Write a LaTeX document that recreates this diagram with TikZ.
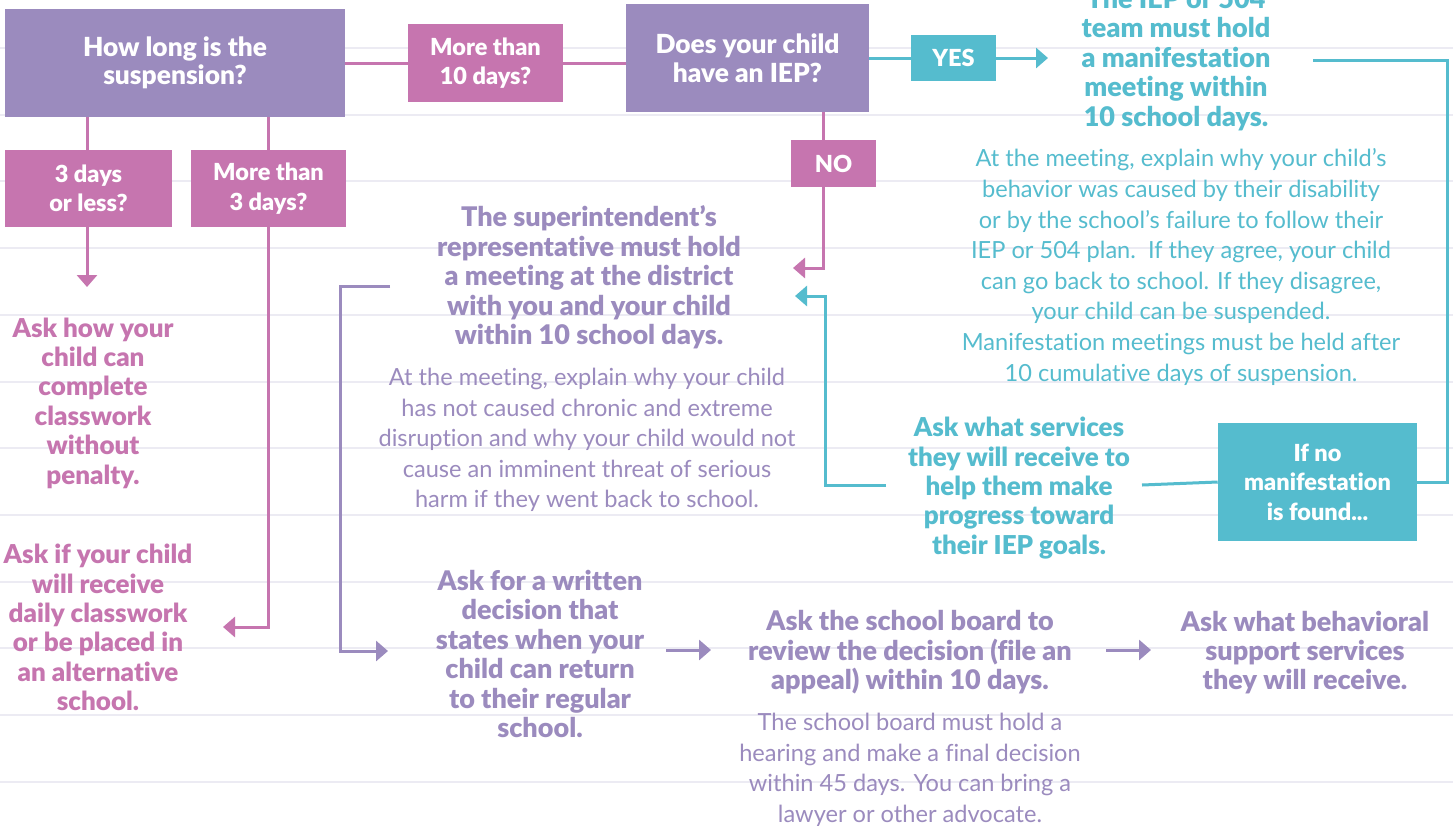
\documentclass[tikz,border=0pt]{standalone}
\usepackage{fontspec}
\setmainfont{Lato}[Ligatures=NoCommon,BoldFont={Lato Black}]
\usepackage{tikz}
\usetikzlibrary{positioning}
\usetikzlibrary{arrows.meta}
\usetikzlibrary{calc}
\definecolor{lav}{HTML}{9B8BBE}
\definecolor{rose}{HTML}{C675AF}
\definecolor{aqua}{HTML}{55BCCE}
\definecolor{ruling}{HTML}{ECEBF3}
\tikzset{box node/.style={fill=#1,text=white,align=center,inner sep=0pt,
    font=\bfseries\fontsize{26.3}{28.5}\selectfont},
  tag node/.style={fill=#1,text=white,align=center,inner sep=0pt,
    font=\bfseries\fontsize{23.5}{29.5}\selectfont},
  head node/.style={text=#1,align=center,inner sep=0pt,yshift=-2pt,
    font=\bfseries\fontsize{27}{29.4}\selectfont},
  note node/.style={text=#1,align=center,inner sep=0pt,yshift=-2pt,
    font=\fontsize{23.6}{30.6}\selectfont},
  link/.style={draw=#1,line width=3pt},
  arrow link/.style={draw=#1,line width=3pt,-{Triangle[length=12pt,width=20pt]}},}

\begin{document}
\begin{tikzpicture}[x=1pt,y=-1pt,semithick]
    \useasboundingbox (0,0) rectangle (1453,825);
    \clip (0,0) rectangle (1453,825);
    \fill[white] (0,0) rectangle (1453,825);
    % ruled paper
    \foreach \k in {0,...,11}
        \draw[ruling,line width=2pt] (0,{48+66.7*\k}) -- (1453,{48+66.7*\k});

    % question boxes
    \node[box node=lav,minimum width=340pt,minimum height=108pt] (len) at (175,63) {How long is the\\suspension?};
    \node[tag node=rose,minimum width=155pt,minimum height=78pt] (m10) at (485.5,63) {More than\\10 days?};
    \node[box node=lav,minimum width=243pt,minimum height=108pt] (iep) at (747.5,58) {Does your child\\have an IEP?};
    \node[tag node=aqua,minimum width=85pt,minimum height=46pt] (yes) at (953.5,58) {YES};
    \node[tag node=rose,minimum width=85pt,minimum height=47pt] (no) at (833.5,163.5) {NO};
    \node[tag node=rose,minimum width=167pt,minimum height=77pt] (d3) at (88.5,188.5) {3 days\\or less?};
    \node[tag node=rose,minimum width=155pt,minimum height=77pt] (m3) at (268.5,188.5) {More than\\3 days?};
    \node[tag node=aqua,minimum width=199pt,minimum height=118pt] (nomf) at (1317.5,482) {If no\\manifestation\\is found...};

    % answers
    \node[head node=rose,font=\bfseries\fontsize{26}{29.4}\selectfont] (cw) at (93,401) {Ask how your\\child can\\complete\\classwork\\without\\penalty.};
    \node[head node=rose,font=\bfseries\fontsize{26}{29.4}\selectfont] (alt) at (98,625.5) {Ask if your child\\will receive\\daily classwork\\or be placed in\\an alternative\\school.};
    \node[head node=lav] (sup) at (589,275.5) {The superintendent’s\\representative must hold\\a meeting at the district\\with you and your child\\within 10 school days.};
    \node[note node=lav] (supnote) at (587,438) {At the meeting, explain why your child\\has not caused chronic and extreme\\disruption and why your child would not\\cause an imminent threat of serious\\harm if they went back to school.};
    \node[head node=aqua] (mdr) at (1176,57.5) {The IEP or 504\\team must hold\\a manifestation\\meeting within\\10 school days.};
    \node[note node=aqua] (mdrnote) at (1181,265) {At the meeting, explain why your child’s\\behavior was caused by their disability\\or by the school’s failure to follow their\\IEP or 504 plan.\ \ If they agree, your child\\can go back to school. If they disagree,\\your child can be suspended.\\Manifestation meetings must be held after\\10 cumulative days of suspension.};
    \node[head node=aqua,font=\bfseries\fontsize{26}{29.4}\selectfont] (svc) at (1019,486) {Ask what services\\they will receive to\\help them make\\progress toward\\their IEP goals.};
    \node[head node=lav] (wr) at (540,652) {Ask for a written\\decision that\\states when your\\child can return\\to their regular\\school.};
    \node[head node=lav] (brd) at (910,650.5) {Ask the school board to\\review the decision (file an\\appeal) within 10 days.};
    \node[note node=lav] (brdnote) at (910,768) {The school board must hold a\\hearing and make a final decision\\within 45 days. You can bring a\\lawyer or other advocate.};
    \node[head node=lav] (bhv) at (1305,650.5) {Ask what behavioral\\support services\\they will receive.};

    % loose ends of the connectors
    \coordinate (cwin) at (87,287);
    \coordinate (altin) at (223,627);
    \coordinate (mdrin) at (1048,58);
    \coordinate (mdrout) at (1313,60);
    \coordinate (supinA) at (793,268);
    \coordinate (supinB) at (795,296);
    \coordinate (supout) at (390,286);
    \coordinate (svcin) at (1142,485);
    \coordinate (svcout) at (886,485);
    \coordinate (wrin) at (388,651);
    \coordinate (wrout) at (666,650);
    \coordinate (brdin) at (711,650);
    \coordinate (brdout) at (1106,650);
    \coordinate (bhvin) at (1151,650);

    % connectors
    \draw[link=rose] (len.east) -- (m10.west);
    \draw[link=rose] (m10.east) -- (m10.east -| iep.west);
    \draw[link=aqua] (iep.east) -- (iep.east -| yes.west);
    \draw[arrow link=aqua] (yes.east) -- (mdrin);
    \draw[link=rose] (d3.north -| cwin) -- (len.south -| cwin);
    \draw[link=rose] (m3.north) -- (m3.north |- len.south);
    \draw[arrow link=rose] (d3.south -| cwin) -- (cwin);
    \draw[arrow link=rose] (m3.south) |- (altin);
    \draw[link=rose] ([xshift=-10pt]no.north) -- ([xshift=-10pt]no.north |- iep.south);
    \draw[arrow link=rose] ([xshift=-10pt]no.south) |- (supinA);
    \draw[link=aqua] (mdrout) -- ++(134,0) |- (nomf.east);
    \draw[link=aqua] (nomf.west) -- (svcin);
    \draw[arrow link=aqua] (svcout) -- ++(-61,0) |- (supinB);
    \draw[arrow link=lav] (supout) -- ++(-50,0) |- (wrin);
    \draw[arrow link=lav] (wrout) -- (brdin);
    \draw[arrow link=lav] (brdout) -- (bhvin);
\end{tikzpicture}
\end{document}
